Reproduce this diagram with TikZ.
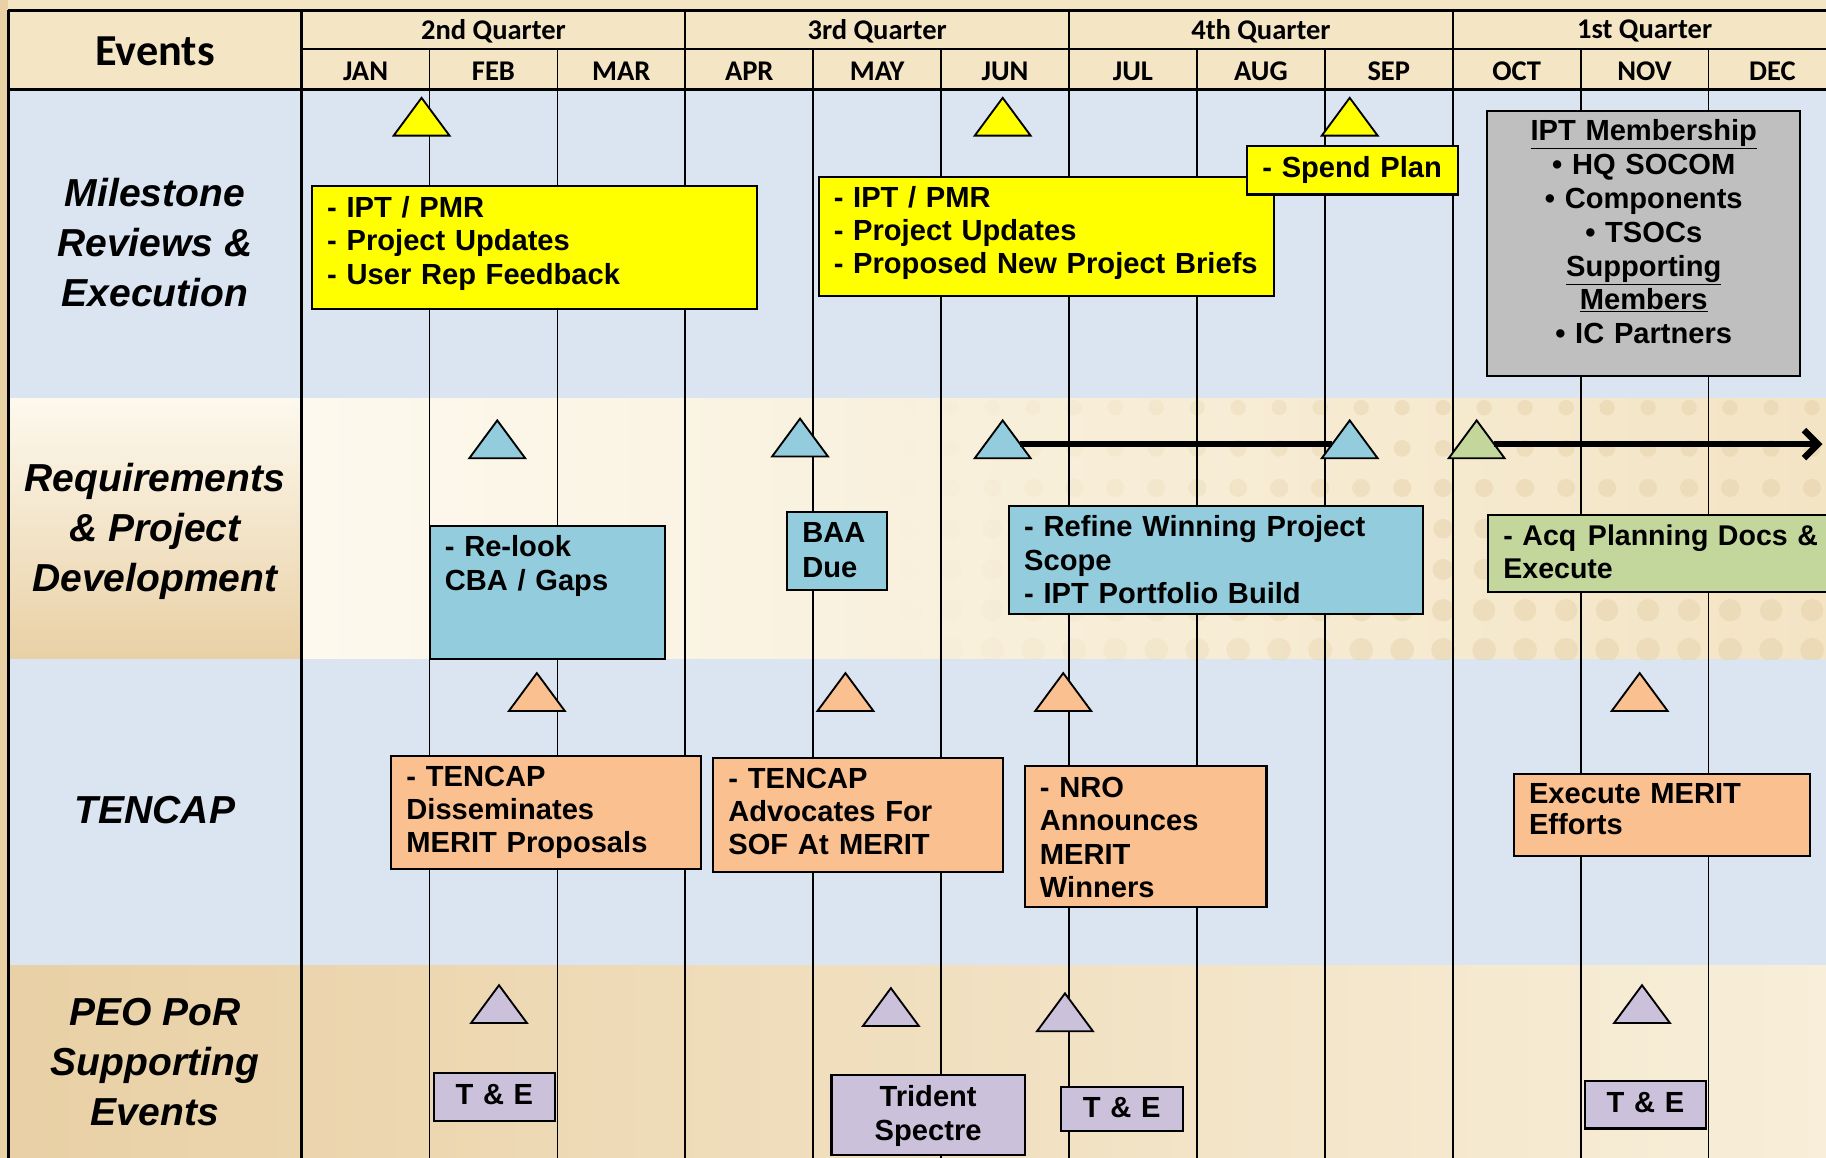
\documentclass[tikz,border=0pt]{standalone}
\usepackage{fontspec}
\setmainfont{Liberation Sans}
\newfontfamily\calibri{Carlito}
\usetikzlibrary{shapes.geometric,arrows.meta}

\definecolor{bandblue}{HTML}{DBE5F1}
\definecolor{hdrbeige}{HTML}{F4E5C5}
\definecolor{tan}{HTML}{E9D0A5}
\definecolor{cream}{HTML}{FDF9EE}
\definecolor{sand}{HTML}{F3E4C4}
\definecolor{dotcol}{HTML}{E2CDA3}
\definecolor{msyellow}{HTML}{FFFF00}
\definecolor{rqblue}{HTML}{93CDDD}
\definecolor{tcorange}{HTML}{FAC090}
\definecolor{acqgreen}{HTML}{C3D69B}
\definecolor{peopurple}{HTML}{CCC1DA}
\definecolor{iptgray}{HTML}{BFBFBF}

\begin{document}
\begin{tikzpicture}[x=1pt, y=-1pt,
  box/.style={draw, line width=1.8pt, anchor=north west, inner xsep=13pt, inner ysep=0pt,
    outer sep=0pt, align=left, font=\fontsize{25}{28.5}\selectfont\bfseries},
  tri/.style={draw, line width=1.6pt, isosceles triangle, isosceles triangle stretches,
    shape border rotate=90, minimum width=48pt, minimum height=32.5pt, inner sep=0pt,
    outer sep=0pt, anchor=apex},
  rowlabel/.style={align=center, font=\fontsize{33.5}{43}\selectfont\bfseries\itshape},
  month/.style={font=\calibri\fontsize{24.5}{26}\selectfont\bfseries}]

\useasboundingbox (0,0) rectangle (1568,994);
\clip (0,0) rectangle (1568,994);

\fill[hdrbeige] (0,0) rectangle (1568,994);
\fill[tan] (0,0) rectangle (7,994);
\fill[bandblue] (7,77) rectangle (1568,342);
\shade[top color=cream, bottom color=tan] (7,342) rectangle (259,566);
\shade[left color=cream, right color=sand] (259,342) rectangle (1568,566);
\fill[bandblue] (7,566) rectangle (1568,829);
\shade[left color=tan, right color=cream!50!sand] (7,829) rectangle (1568,994);

\begin{scope}
\clip (259,342) rectangle (1568,566);
\foreach \col in {0,...,24}
  \foreach \row [count=\k] in {350,385,419,454,489,524,558} {
    \pgfmathsetmacro\xx{1556-35.2*\col}
    \pgfmathsetmacro\op{max(0,min(1,(\xx-760)/450))*0.4}
    \fill[dotcol, opacity=\op] (\xx,\row) circle ({6+0.6*\k});
  }
\end{scope}

\draw[line width=2.5pt] (7,9) -- (1568,9);
\draw[line width=2.5pt] (7,9) -- (7,994);
\draw[line width=2.5pt] (259,9) -- (259,994);
\draw[line width=2pt] (259,42) -- (1568,42);
\foreach \q in {1,2,3}
  \draw[line width=1.8pt] ({259+329.5*\q},9) -- ({259+329.5*\q},994);
\foreach \m in {1,2,4,5,7,8,10,11}
  \draw[line width=1.5pt] ({259+109.83*\m},42) -- ({259+109.83*\m},994);
\draw[line width=3pt] (7,77) -- (1568,77);

\node[font=\calibri\fontsize{38}{40}\selectfont\bfseries] (events) at (133,44) {Events};
\foreach \q [count=\i] in {2nd,3rd,4th,1st}
  \node[month] (q\i) at ({259+329.5*(\i-0.5)},26.5) {\q\ Quarter};
\foreach \m [count=\i] in {JAN,FEB,MAR,APR,MAY,JUN,JUL,AUG,SEP,OCT,NOV,DEC}
  \node[month] (mon\i) at ({259+109.83*(\i-0.5)},61) {\m};

\node[rowlabel] (milestone) at (133,208) {Milestone\\Reviews \&\\Execution};
\node[rowlabel] (reqs) at (133,456.5) {Requirements\\\& Project\\Development};
\node[rowlabel] (tencap) at (133,696) {TENCAP};
\node[rowlabel] (peo) at (133,912) {PEO PoR\\Supporting\\Events};

\node[tri, fill=msyellow] (ms1) at (362,84) {};
\node[tri, fill=msyellow] (ms2) at (861,84) {};
\node[tri, fill=msyellow] (ms3) at (1159,84) {};

\node[box, fill=msyellow, text width=356pt, text height=27pt, text depth=78pt] (ipt1) at (268,160)
  {- IPT / PMR\\- Project Updates\\- User Rep Feedback};
\node[box, fill=msyellow, text width=365pt, text height=26pt, text depth=76pt] (ipt2) at (703,152)
  {- IPT / PMR\\- Project Updates\\- Proposed New Project Briefs};
\node[box, fill=msyellow, text width=155pt, text height=27pt, text depth=15pt] (spend) at (1071,125)
  {- Spend Plan};
\node[box, fill=iptgray, align=center, font=\fontsize{25}{29}\selectfont\bfseries,
  text width=243pt, text height=26pt, text depth=202pt] (members) at (1277,95)
  {\underline{IPT Membership}\\\textbullet\ HQ SOCOM\\\textbullet\ Components\\\textbullet\ TSOCs\\
   \underline{Supporting}\\\underline{Members}\\\textbullet\ IC Partners};

\node[tri, fill=rqblue] (rq1) at (427,361) {};
\node[tri, fill=rqblue] (rq2) at (687,359.5) {};
\node[tri, fill=rqblue] (rq3) at (861,361) {};
\node[tri, fill=rqblue] (rq4) at (1159,361) {};
\node[tri, fill=acqgreen] (acq) at (1268,361) {};
\coordinate (acqend) at (1565,379.5);

\draw[line width=5.5pt] (rq3) -- (rq4);
\draw[line width=5.5pt, -{Straight Barb[length=12pt,width=24pt]}] (acq) -- (acq -| acqend);

\node[box, fill=rqblue, font=\fontsize{25}{29}\selectfont\bfseries, text width=176pt,
  text height=26pt, text depth=88pt] (relook) at (369,452) {- Re-look\\CBA / Gaps};
\node[box, fill=rqblue, font=\fontsize{25}{30}\selectfont\bfseries, text width=60pt,
  text height=26.5pt, text depth=40.5pt] (baa) at (676,439.5) {BAA\\Due};
\node[box, fill=rqblue, text width=329.5pt, text height=26.5pt, text depth=66pt] (refine) at (866.5,434.5)
  {- Refine Winning Project\\Scope\\- IPT Portfolio Build};
\node[box, fill=acqgreen, font=\fontsize{24.5}{29}\selectfont\bfseries, text width=304pt,
  text height=26pt, text depth=40pt] (acqdocs) at (1278,442)
  {- Acq\hspace{10pt}Planning Docs \&\\Execute};

\node[tri, fill=tcorange] (tc1) at (461,578) {};
\node[tri, fill=tcorange] (tc2) at (726,578) {};
\node[tri, fill=tcorange] (tc3) at (913,578) {};
\node[tri, fill=tcorange] (tc4) at (1408,578) {};

\node[box, fill=tcorange, text width=240pt, text height=26pt, text depth=71pt] (dissem) at (336,649)
  {- TENCAP\\Disseminates\\MERIT Proposals};
\node[box, fill=tcorange, text width=222.5pt, text height=26pt, text depth=71.5pt] (advoc) at (612.5,651)
  {- TENCAP\\Advocates For\\SOF At\hspace{9pt}MERIT};
\node[box, fill=tcorange, text width=181.5pt, text height=27.5pt, text depth=94pt] (nro) at (880,657.5)
  {- NRO\\Announces\\MERIT\\Winners};
\node[box, fill=tcorange, font=\fontsize{25}{27}\selectfont\bfseries, text width=228pt,
  text height=25.5pt, text depth=45pt] (merit) at (1300,664.5) {Execute MERIT\\Efforts};

\node[tri, fill=peopurple] (pe1) at (428.5,846) {};
\node[tri, fill=peopurple] (pe2) at (765,848.5) {};
\node[tri, fill=peopurple] (pe3) at (914.5,853) {};
\node[tri, fill=peopurple] (pe4) at (1410,846) {};

\node[box, fill=peopurple, align=center, text width=78pt, text height=26.5pt, text depth=14.5pt]
  (te1) at (372.5,921.5) {T \& E};
\node[box, fill=peopurple, align=center, font=\fontsize{25}{29}\selectfont\bfseries, text width=140pt,
  text height=27pt, text depth=42pt] (trident) at (714,923) {Trident\\Spectre};
\node[box, fill=peopurple, align=center, text width=78.5pt, text height=26.5pt, text depth=11pt]
  (te2) at (911,933.5) {T \& E};
\node[box, fill=peopurple, align=center, text width=78pt, text height=27pt, text depth=14pt]
  (te3) at (1361,928) {T \& E};

\end{tikzpicture}
\end{document}
